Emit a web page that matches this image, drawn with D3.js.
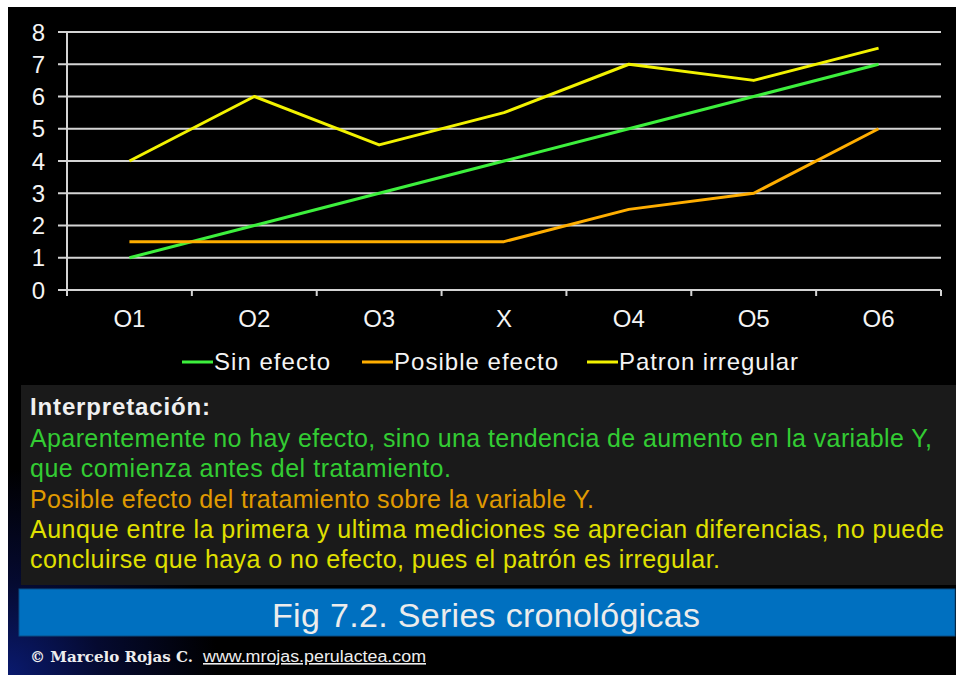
<!DOCTYPE html>
<html>
<head>
<meta charset="utf-8">
<script src="https://cdn.jsdelivr.net/npm/d3@7"></script>
<style>
  html, body { margin: 0; padding: 0; background: #ffffff; }
  svg { display: block; }
</style>
</head>
<body>
<svg id="chart" width="956" height="675"></svg>
<script>
// Observations before and after the treatment X
const categories = ["O1", "O2", "O3", "X", "O4", "O5", "O6"];
const sinEfecto = [1, 2, 3, 4, 5, 6, 7];
const posibleEfecto = [1.5, 1.5, 1.5, 1.5, 2.5, 3, 5];
const patronIrregular = [4, 6, 4.5, 5.5, 7, 6.5, 7.5];
const yTicks = [0, 1, 2, 3, 4, 5, 6, 7, 8];

const seriesNames = ["Sin efecto", "Posible efecto", "Patron irregular"];
const seriesColors = ["#3df03d", "#ffae00", "#f2f200"];

const interpretation = [
  { text: "Aparentemente no hay  efecto, sino una tendencia de aumento en la variable Y,", color: "#33cc33", width: 902 },
  { text: "que comienza antes del tratamiento.", color: "#33cc33", width: 421 },
  { text: "Posible efecto del tratamiento sobre la variable Y.", color: "#e09a00", width: 564 },
  { text: "Aunque entre la primera y ultima mediciones se aprecian diferencias, no puede", color: "#e0e000", width: 914 },
  { text: "concluirse que haya o no efecto, pues el patrón es irregular.", color: "#e0e000", width: 690 }
];

const font = "Arial, 'Liberation Sans', sans-serif";
const svg = d3.select("#chart");

// slide background
const defs = svg.append("defs");
const glow = defs.append("radialGradient").attr("id", "glow")
  .attr("cx", "0%").attr("cy", "100%").attr("r", "70%");
glow.append("stop").attr("offset", "0%").attr("stop-color", "#0a1a6e");
glow.append("stop").attr("offset", "45%").attr("stop-color", "#050a30");
glow.append("stop").attr("offset", "100%").attr("stop-color", "#000000");

svg.append("rect").attr("x", 8).attr("y", 7).attr("width", 948).attr("height", 668).attr("fill", "#000");
svg.append("rect").attr("x", 8).attr("y", 380).attr("width", 300).attr("height", 295).attr("fill", "url(#glow)");
svg.append("rect").attr("x", 8).attr("y", 7).attr("width", 948).attr("height", 372).attr("fill", "#000");

// scales
const x = d3.scaleBand().domain(categories).range([67, 941]).padding(0);
const y = d3.scaleLinear().domain([0, 8]).range([290, 32]);
const cx = d => x(d) + x.bandwidth() / 2;

const plot = svg.append("g");

// horizontal gridlines with left tick stubs
plot.selectAll("line.grid").data(yTicks).join("line")
  .attr("x1", 58).attr("x2", 941)
  .attr("y1", d => y(d)).attr("y2", d => y(d))
  .attr("stroke", "#d4d4d4").attr("stroke-width", 2);

// y axis line
plot.append("line").attr("x1", 67).attr("x2", 67)
  .attr("y1", y(8)).attr("y2", 296)
  .attr("stroke", "#d4d4d4").attr("stroke-width", 2);

// y tick labels
plot.selectAll("text.ytick").data(yTicks).join("text")
  .attr("x", 45).attr("y", d => y(d) + 8.5)
  .attr("text-anchor", "end")
  .attr("font-family", font).attr("font-size", 24)
  .attr("fill", "#f4f4f4")
  .text(d => d);

// x axis ticks at band boundaries
const edges = categories.map(c => x(c)).concat([x.range()[1]]);
plot.selectAll("line.xtick").data(edges).join("line")
  .attr("x1", d => d).attr("x2", d => d)
  .attr("y1", 290).attr("y2", 296)
  .attr("stroke", "#d4d4d4").attr("stroke-width", 2);

// x labels
plot.selectAll("text.xtick").data(categories).join("text")
  .attr("x", d => cx(d)).attr("y", 327)
  .attr("text-anchor", "middle")
  .attr("font-family", font).attr("font-size", 24)
  .attr("fill", "#f4f4f4")
  .text(d => d);

// series lines
const seriesData = [sinEfecto, posibleEfecto, patronIrregular];
const line = d3.line().x((d, i) => cx(categories[i])).y(d => y(d));
plot.selectAll("path.series").data(seriesData).join("path")
  .attr("d", d => line(d))
  .attr("fill", "none")
  .attr("stroke", (d, i) => seriesColors[i])
  .attr("stroke-width", 3)
  .attr("stroke-linejoin", "round");

// legend
const legendX = [182, 362, 587];
const legendW = [116, 164, 179];
const legend = svg.append("g");
seriesNames.forEach((name, i) => {
  legend.append("line")
    .attr("x1", legendX[i]).attr("x2", legendX[i] + 31)
    .attr("y1", 362).attr("y2", 362)
    .attr("stroke", seriesColors[i]).attr("stroke-width", 3);
  legend.append("text")
    .attr("x", legendX[i] + 32).attr("y", 370)
    .attr("font-family", font).attr("font-size", 24)
    .attr("fill", "#f4f4f4")
    .attr("textLength", legendW[i]).attr("lengthAdjust", "spacing")
    .text(name);
});

// interpretation box
svg.append("rect").attr("x", 21).attr("y", 385).attr("width", 935).attr("height", 200)
  .attr("fill", "#1a1a1a");
svg.append("text").attr("x", 30).attr("y", 415)
  .attr("font-family", font).attr("font-size", 24).attr("font-weight", "bold")
  .attr("fill", "#f0f0f0")
  .attr("textLength", 180).attr("lengthAdjust", "spacing")
  .text("Interpretación:");
svg.selectAll("text.interp").data(interpretation).join("text")
  .attr("x", 30).attr("y", (d, i) => 447 + i * 30.3)
  .attr("font-family", font).attr("font-size", 25)
  .attr("fill", d => d.color)
  .attr("textLength", d => d.width).attr("lengthAdjust", "spacing")
  .text(d => d.text);

// caption bar
svg.append("rect").attr("x", 19).attr("y", 589).attr("width", 936).attr("height", 47)
  .attr("fill", "#0070c0").attr("stroke", "#0a4f86").attr("stroke-width", 1);
svg.append("text").attr("x", 272).attr("y", 627)
  .attr("font-family", font).attr("font-size", 34)
  .attr("fill", "#ececec")
  .attr("textLength", 428).attr("lengthAdjust", "spacing")
  .text("Fig 7.2. Series cronológicas");

// credit line
svg.append("text").attr("x", 30).attr("y", 662)
  .attr("font-family", "'DejaVu Serif', serif").attr("font-size", 14).attr("font-weight", "bold")
  .attr("fill", "#eeeeee")
  .attr("textLength", 163).attr("lengthAdjust", "spacingAndGlyphs")
  .text("© Marcelo Rojas C.");
svg.append("text").attr("x", 203).attr("y", 662)
  .attr("font-family", font).attr("font-size", 16)
  .attr("fill", "#eeeeee")
  .attr("textLength", 223).attr("lengthAdjust", "spacingAndGlyphs")
  .attr("text-decoration", "underline")
  .text("www.mrojas.perulactea.com");
</script>
</body>
</html>
